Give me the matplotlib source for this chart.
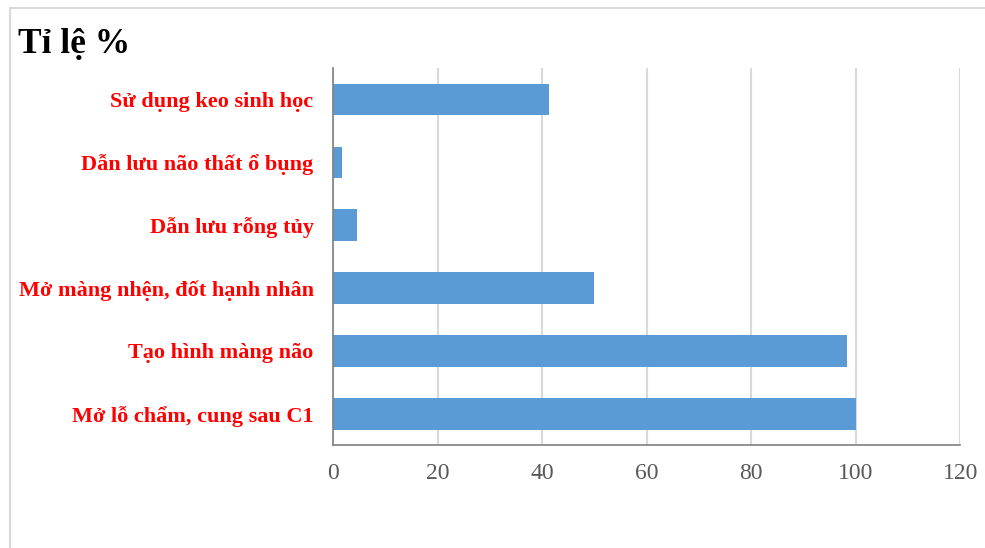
import matplotlib.pyplot as plt
from matplotlib.patches import Rectangle

categories = ["Sử dụng keo sinh học", "Dẫn lưu não thất ổ bụng", "Dẫn lưu rỗng tủy",
              "Mở màng nhện, đốt hạnh nhân", "Tạo hình màng não", "Mở lỗ chẩm, cung sau C1"]
values = [41.3, 1.7, 4.6, 50, 98.3, 100]
xticks = [0, 20, 40, 60, 80, 100, 120]

plt.rcParams['font.family'] = ['Liberation Serif', 'DejaVu Serif']

fig = plt.figure(figsize=(9.85, 5.48), dpi=100)
W, H = 985, 548
ax = fig.add_axes([333 / W, 1 - 445.3 / H, (960.2 - 333) / W, (445.3 - 68) / H])

# bars from top to bottom in list order
pos = list(range(len(categories)))[::-1]
ax.barh(pos, values, height=0.5, color='#5B9BD5', zorder=3)
ax.set_ylim(-0.5, len(categories) - 0.5)
ax.set_xlim(0, 120)
ax.set_xticks(xticks)
ax.set_xticklabels([str(t) for t in xticks], fontsize=17, color='#595959')
ax.set_yticks(pos)
ax.set_yticklabels(categories, fontsize=16, color='red', fontweight='bold')
ax.tick_params(axis='x', length=0, pad=13)
ax.tick_params(axis='y', length=0, pad=14)
ax.grid(axis='x', color='#d9d9d9', linewidth=1.5, zorder=0)
for s in ['top', 'right']:
    ax.spines[s].set_visible(False)
for s in ['left', 'bottom']:
    ax.spines[s].set_color('#7f7f7f')
    ax.spines[s].set_linewidth(1.2)
    ax.spines[s].set_zorder(4)

# title
fig.text(18 / W, 1 - 44 / H, "Tỉ lệ %", fontsize=25.5, fontweight='bold', va='center', ha='left')

# light frame of the chart area
fig.patches.append(Rectangle((9.5 / W, -0.1), 1.2, 1 - 8 / H + 0.1, transform=fig.transFigure,
                             fill=False, edgecolor='#d9d9d9', linewidth=1.5))

fig.savefig("out.png", dpi=100)
